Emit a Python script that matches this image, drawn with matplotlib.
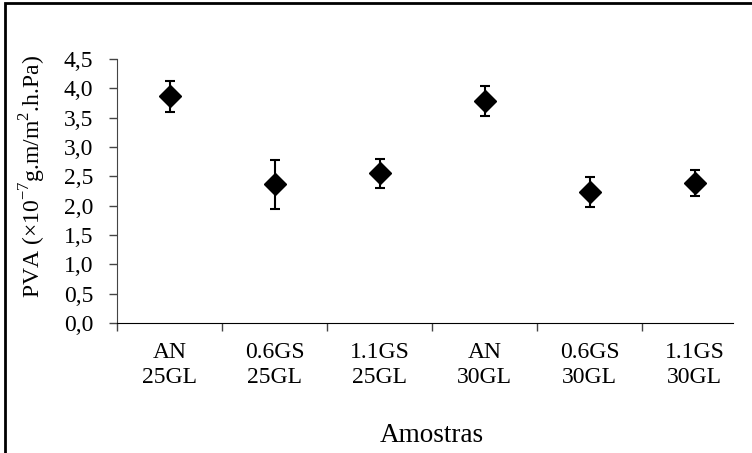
import matplotlib
matplotlib.use("Agg")
import matplotlib.pyplot as plt
import numpy as np
from matplotlib.patches import Rectangle

# Data
samples = ["AN\n25GL", "0.6GS\n25GL", "1.1GS\n25GL", "AN\n30GL", "0.6GS\n30GL", "1.1GS\n30GL"]
pva = [3.86, 2.36, 2.55, 3.78, 2.23, 2.39]
pva_err = [0.27, 0.42, 0.25, 0.26, 0.26, 0.22]
y_ticks = [0.0, 0.5, 1.0, 1.5, 2.0, 2.5, 3.0, 3.5, 4.0, 4.5]

plt.rcParams["font.family"] = ["Liberation Serif", "DejaVu Serif"]
plt.rcParams["mathtext.fontset"] = "custom"
plt.rcParams["mathtext.rm"] = "Liberation Serif"

fig = plt.figure(figsize=(7.52, 4.53), dpi=100)
ax = fig.add_axes([0.1556, 0.287, 0.8378, 0.583])

x = np.arange(1, len(samples) + 1)
ax.errorbar(x, pva, yerr=pva_err, fmt="D", color="black", markersize=11,
            ecolor="black", elinewidth=1.5, capsize=3.6, capthick=1.5)

ax.set_xlim(0.5, len(samples) + 0.5)
ax.set_ylim(0, 4.5)
ax.set_yticks(y_ticks)
ax.set_yticklabels([f"{v:.1f}".replace(".", ",") for v in y_ticks])
ax.set_xticks(x)
ax.set_xticklabels(samples, linespacing=1.25)
ax.set_xticks(np.arange(0.5, len(samples)), minor=True)
ax.tick_params(axis="x", which="major", length=0, pad=14, labelsize=17)
ax.tick_params(axis="x", which="minor", length=6, width=1, color="#444444")
ax.tick_params(axis="y", length=6, width=1, color="#444444", labelsize=17, pad=11)

for s in ["top", "right"]:
    ax.spines[s].set_visible(False)
ax.spines["left"].set_color("#444444")
ax.spines["bottom"].set_color("black")
ax.spines["bottom"].set_bounds(0.5, len(samples) + 0.5 - 14 / 105)

ax.set_ylabel("PVA (×10$^{-7}$g.m/m$^{2}$.h.Pa)", fontsize=17)
ax.yaxis.set_label_coords(-0.110, 0.553)
ax.set_xlabel("Amostras", fontsize=19.5, labelpad=25)

# outer frame (only left and top edges fall inside the picture)
fig.patches.append(Rectangle((0.006, -0.2), 1.5, 1.1934, transform=fig.transFigure,
                             fill=False, edgecolor="black", linewidth=2))

fig.savefig("out.png", dpi=100)
